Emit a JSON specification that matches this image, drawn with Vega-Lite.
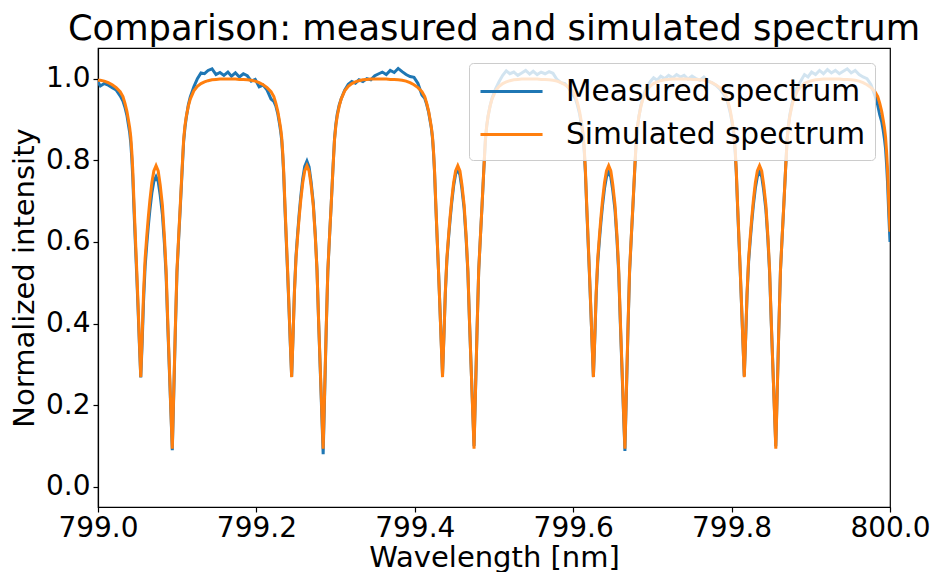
{
"$schema": "https://vega.github.io/schema/vega-lite/v6.json",
"width": 792, "height": 459,
"autosize": {"type": "none"},
"padding": {"left": 98, "top": 48, "right": 44, "bottom": 65},
"background": "white",
"title": {"text": "Comparison: measured and simulated spectrum", "fontSize": 35.3, "font": "DejaVu Sans", "fontWeight": "normal", "color": "black", "anchor": "middle", "offset": 1},
"datasets": {"spec": [
{"x":799.0000,"m":0.992,"s":0.996},
{"x":799.0030,"m":0.982,"s":0.996},
{"x":799.0080,"m":0.988,"s":0.994},
{"x":799.0130,"m":0.984,"s":0.990},
{"x":799.0180,"m":0.978,"s":0.985},
{"x":799.0230,"m":0.972,"s":0.978},
{"x":799.0280,"m":0.958,"s":0.968},
{"x":799.0315,"m":0.945,"s":0.956},
{"x":799.0340,"m":0.930,"s":0.940},
{"x":799.0365,"m":0.910,"s":0.920},
{"x":799.0383,"m":0.888,"s":0.900},
{"x":799.0400,"m":0.868,"s":0.880},
{"x":799.0414,"m":0.842,"s":0.857},
{"x":799.0427,"m":0.804,"s":0.820},
{"x":799.0439,"m":0.758,"s":0.776},
{"x":799.0455,"m":0.676,"s":0.694},
{"x":799.0472,"m":0.596,"s":0.612},
{"x":799.0489,"m":0.518,"s":0.531},
{"x":799.0505,"m":0.440,"s":0.450},
{"x":799.0522,"m":0.352,"s":0.360},
{"x":799.0540,"m":0.268,"s":0.269},
{"x":799.0558,"m":0.355,"s":0.370},
{"x":799.0575,"m":0.455,"s":0.475},
{"x":799.0595,"m":0.540,"s":0.560},
{"x":799.0616,"m":0.594,"s":0.615},
{"x":799.0635,"m":0.638,"s":0.660},
{"x":799.0655,"m":0.678,"s":0.702},
{"x":799.0680,"m":0.720,"s":0.745},
{"x":799.0705,"m":0.748,"s":0.774},
{"x":799.0733,"m":0.760,"s":0.787},
{"x":799.0760,"m":0.748,"s":0.774},
{"x":799.0785,"m":0.715,"s":0.740},
{"x":799.0813,"m":0.668,"s":0.690},
{"x":799.0838,"m":0.598,"s":0.615},
{"x":799.0860,"m":0.518,"s":0.531},
{"x":799.0880,"m":0.400,"s":0.410},
{"x":799.0900,"m":0.292,"s":0.300},
{"x":799.0920,"m":0.185,"s":0.190},
{"x":799.0938,"m":0.090,"s":0.094},
{"x":799.0956,"m":0.222,"s":0.230},
{"x":799.0976,"m":0.378,"s":0.385},
{"x":799.0997,"m":0.524,"s":0.531},
{"x":799.1018,"m":0.606,"s":0.612},
{"x":799.1040,"m":0.688,"s":0.694},
{"x":799.1061,"m":0.770,"s":0.776},
{"x":799.1081,"m":0.845,"s":0.850},
{"x":799.1098,"m":0.880,"s":0.885},
{"x":799.1115,"m":0.905,"s":0.908},
{"x":799.1140,"m":0.935,"s":0.932},
{"x":799.1165,"m":0.955,"s":0.950},
{"x":799.1210,"m":0.980,"s":0.970},
{"x":799.1255,"m":1.000,"s":0.981},
{"x":799.1300,"m":1.014,"s":0.988},
{"x":799.1345,"m":1.012,"s":0.992},
{"x":799.1390,"m":1.020,"s":0.995},
{"x":799.1440,"m":1.024,"s":0.997},
{"x":799.1490,"m":1.010,"s":0.998},
{"x":799.1540,"m":1.015,"s":0.999},
{"x":799.1590,"m":1.008,"s":0.999},
{"x":799.1640,"m":1.016,"s":0.999},
{"x":799.1685,"m":1.006,"s":0.999},
{"x":799.1735,"m":1.014,"s":0.999},
{"x":799.1785,"m":1.004,"s":0.998},
{"x":799.1835,"m":1.012,"s":0.998},
{"x":799.1885,"m":1.007,"s":0.997},
{"x":799.1935,"m":0.994,"s":0.996},
{"x":799.1985,"m":0.998,"s":0.994},
{"x":799.2035,"m":0.980,"s":0.990},
{"x":799.2085,"m":0.984,"s":0.985},
{"x":799.2135,"m":0.972,"s":0.978},
{"x":799.2185,"m":0.950,"s":0.968},
{"x":799.2220,"m":0.944,"s":0.956},
{"x":799.2245,"m":0.933,"s":0.940},
{"x":799.2270,"m":0.914,"s":0.920},
{"x":799.2288,"m":0.894,"s":0.900},
{"x":799.2305,"m":0.873,"s":0.880},
{"x":799.2319,"m":0.850,"s":0.857},
{"x":799.2332,"m":0.813,"s":0.820},
{"x":799.2344,"m":0.768,"s":0.776},
{"x":799.2360,"m":0.686,"s":0.694},
{"x":799.2377,"m":0.604,"s":0.612},
{"x":799.2394,"m":0.524,"s":0.531},
{"x":799.2410,"m":0.444,"s":0.450},
{"x":799.2427,"m":0.356,"s":0.360},
{"x":799.2445,"m":0.270,"s":0.269},
{"x":799.2463,"m":0.372,"s":0.370},
{"x":799.2480,"m":0.478,"s":0.475},
{"x":799.2500,"m":0.565,"s":0.560},
{"x":799.2521,"m":0.622,"s":0.615},
{"x":799.2540,"m":0.668,"s":0.660},
{"x":799.2560,"m":0.711,"s":0.702},
{"x":799.2585,"m":0.755,"s":0.745},
{"x":799.2610,"m":0.785,"s":0.774},
{"x":799.2638,"m":0.798,"s":0.787},
{"x":799.2665,"m":0.784,"s":0.774},
{"x":799.2690,"m":0.748,"s":0.740},
{"x":799.2718,"m":0.696,"s":0.690},
{"x":799.2743,"m":0.619,"s":0.615},
{"x":799.2765,"m":0.533,"s":0.531},
{"x":799.2785,"m":0.408,"s":0.410},
{"x":799.2805,"m":0.294,"s":0.300},
{"x":799.2825,"m":0.180,"s":0.190},
{"x":799.2843,"m":0.080,"s":0.094},
{"x":799.2861,"m":0.220,"s":0.230},
{"x":799.2881,"m":0.380,"s":0.385},
{"x":799.2902,"m":0.528,"s":0.531},
{"x":799.2923,"m":0.612,"s":0.612},
{"x":799.2945,"m":0.694,"s":0.694},
{"x":799.2966,"m":0.778,"s":0.776},
{"x":799.2986,"m":0.852,"s":0.850},
{"x":799.3003,"m":0.888,"s":0.885},
{"x":799.3020,"m":0.912,"s":0.908},
{"x":799.3045,"m":0.935,"s":0.932},
{"x":799.3070,"m":0.950,"s":0.950},
{"x":799.3115,"m":0.972,"s":0.970},
{"x":799.3160,"m":0.986,"s":0.981},
{"x":799.3205,"m":0.993,"s":0.988},
{"x":799.3250,"m":0.989,"s":0.992},
{"x":799.3295,"m":0.997,"s":0.995},
{"x":799.3345,"m":0.993,"s":0.997},
{"x":799.3395,"m":1.000,"s":0.998},
{"x":799.3445,"m":0.997,"s":0.999},
{"x":799.3495,"m":1.007,"s":0.999},
{"x":799.3545,"m":1.012,"s":0.999},
{"x":799.3590,"m":1.016,"s":0.999},
{"x":799.3640,"m":1.010,"s":0.999},
{"x":799.3690,"m":1.020,"s":0.998},
{"x":799.3740,"m":1.015,"s":0.998},
{"x":799.3790,"m":1.025,"s":0.997},
{"x":799.3840,"m":1.017,"s":0.996},
{"x":799.3890,"m":1.010,"s":0.994},
{"x":799.3940,"m":1.005,"s":0.990},
{"x":799.3990,"m":1.003,"s":0.985},
{"x":799.4040,"m":0.988,"s":0.978},
{"x":799.4090,"m":0.960,"s":0.968},
{"x":799.4125,"m":0.952,"s":0.956},
{"x":799.4150,"m":0.937,"s":0.940},
{"x":799.4175,"m":0.917,"s":0.920},
{"x":799.4193,"m":0.897,"s":0.900},
{"x":799.4210,"m":0.877,"s":0.880},
{"x":799.4224,"m":0.853,"s":0.857},
{"x":799.4237,"m":0.816,"s":0.820},
{"x":799.4249,"m":0.772,"s":0.776},
{"x":799.4265,"m":0.690,"s":0.694},
{"x":799.4282,"m":0.609,"s":0.612},
{"x":799.4299,"m":0.530,"s":0.531},
{"x":799.4315,"m":0.451,"s":0.450},
{"x":799.4332,"m":0.363,"s":0.360},
{"x":799.4350,"m":0.275,"s":0.269},
{"x":799.4368,"m":0.372,"s":0.370},
{"x":799.4385,"m":0.472,"s":0.475},
{"x":799.4405,"m":0.555,"s":0.560},
{"x":799.4426,"m":0.609,"s":0.615},
{"x":799.4445,"m":0.653,"s":0.660},
{"x":799.4465,"m":0.694,"s":0.702},
{"x":799.4490,"m":0.737,"s":0.745},
{"x":799.4515,"m":0.766,"s":0.774},
{"x":799.4543,"m":0.778,"s":0.787},
{"x":799.4570,"m":0.764,"s":0.774},
{"x":799.4595,"m":0.730,"s":0.740},
{"x":799.4623,"m":0.681,"s":0.690},
{"x":799.4648,"m":0.608,"s":0.615},
{"x":799.4670,"m":0.526,"s":0.531},
{"x":799.4690,"m":0.408,"s":0.410},
{"x":799.4710,"m":0.300,"s":0.300},
{"x":799.4730,"m":0.195,"s":0.190},
{"x":799.4748,"m":0.100,"s":0.094},
{"x":799.4766,"m":0.232,"s":0.230},
{"x":799.4786,"m":0.384,"s":0.385},
{"x":799.4807,"m":0.530,"s":0.531},
{"x":799.4828,"m":0.611,"s":0.612},
{"x":799.4850,"m":0.693,"s":0.694},
{"x":799.4871,"m":0.775,"s":0.776},
{"x":799.4891,"m":0.849,"s":0.850},
{"x":799.4908,"m":0.884,"s":0.885},
{"x":799.4925,"m":0.908,"s":0.908},
{"x":799.4950,"m":0.933,"s":0.932},
{"x":799.4975,"m":0.952,"s":0.950},
{"x":799.5020,"m":0.975,"s":0.970},
{"x":799.5065,"m":0.993,"s":0.981},
{"x":799.5110,"m":1.008,"s":0.988},
{"x":799.5155,"m":1.019,"s":0.992},
{"x":799.5200,"m":1.012,"s":0.995},
{"x":799.5250,"m":1.016,"s":0.997},
{"x":799.5300,"m":1.008,"s":0.998},
{"x":799.5350,"m":1.014,"s":0.999},
{"x":799.5400,"m":1.020,"s":0.999},
{"x":799.5450,"m":1.011,"s":0.999},
{"x":799.5495,"m":1.018,"s":0.999},
{"x":799.5545,"m":1.010,"s":0.999},
{"x":799.5595,"m":1.016,"s":0.998},
{"x":799.5645,"m":1.012,"s":0.998},
{"x":799.5695,"m":1.017,"s":0.997},
{"x":799.5745,"m":1.013,"s":0.996},
{"x":799.5795,"m":0.998,"s":0.994},
{"x":799.5845,"m":0.990,"s":0.990},
{"x":799.5895,"m":0.988,"s":0.985},
{"x":799.5945,"m":0.976,"s":0.978},
{"x":799.5995,"m":0.962,"s":0.968},
{"x":799.6030,"m":0.950,"s":0.956},
{"x":799.6055,"m":0.934,"s":0.940},
{"x":799.6080,"m":0.914,"s":0.920},
{"x":799.6098,"m":0.894,"s":0.900},
{"x":799.6115,"m":0.874,"s":0.880},
{"x":799.6129,"m":0.851,"s":0.857},
{"x":799.6142,"m":0.814,"s":0.820},
{"x":799.6154,"m":0.770,"s":0.776},
{"x":799.6170,"m":0.688,"s":0.694},
{"x":799.6187,"m":0.606,"s":0.612},
{"x":799.6204,"m":0.526,"s":0.531},
{"x":799.6220,"m":0.446,"s":0.450},
{"x":799.6237,"m":0.358,"s":0.360},
{"x":799.6255,"m":0.270,"s":0.269},
{"x":799.6273,"m":0.366,"s":0.370},
{"x":799.6290,"m":0.468,"s":0.475},
{"x":799.6310,"m":0.551,"s":0.560},
{"x":799.6331,"m":0.604,"s":0.615},
{"x":799.6350,"m":0.648,"s":0.660},
{"x":799.6370,"m":0.689,"s":0.702},
{"x":799.6395,"m":0.731,"s":0.745},
{"x":799.6420,"m":0.759,"s":0.774},
{"x":799.6448,"m":0.772,"s":0.787},
{"x":799.6475,"m":0.759,"s":0.774},
{"x":799.6500,"m":0.726,"s":0.740},
{"x":799.6528,"m":0.678,"s":0.690},
{"x":799.6553,"m":0.605,"s":0.615},
{"x":799.6575,"m":0.522,"s":0.531},
{"x":799.6595,"m":0.402,"s":0.410},
{"x":799.6615,"m":0.292,"s":0.300},
{"x":799.6635,"m":0.182,"s":0.190},
{"x":799.6653,"m":0.088,"s":0.094},
{"x":799.6671,"m":0.224,"s":0.230},
{"x":799.6691,"m":0.380,"s":0.385},
{"x":799.6712,"m":0.527,"s":0.531},
{"x":799.6733,"m":0.609,"s":0.612},
{"x":799.6755,"m":0.691,"s":0.694},
{"x":799.6776,"m":0.773,"s":0.776},
{"x":799.6796,"m":0.847,"s":0.850},
{"x":799.6813,"m":0.883,"s":0.885},
{"x":799.6830,"m":0.907,"s":0.908},
{"x":799.6855,"m":0.934,"s":0.932},
{"x":799.6880,"m":0.955,"s":0.950},
{"x":799.6925,"m":0.978,"s":0.970},
{"x":799.6970,"m":0.992,"s":0.981},
{"x":799.7015,"m":1.002,"s":0.988},
{"x":799.7060,"m":0.996,"s":0.992},
{"x":799.7105,"m":1.006,"s":0.995},
{"x":799.7155,"m":1.000,"s":0.997},
{"x":799.7205,"m":1.008,"s":0.998},
{"x":799.7255,"m":1.002,"s":0.999},
{"x":799.7305,"m":1.010,"s":0.999},
{"x":799.7355,"m":1.004,"s":0.999},
{"x":799.7400,"m":1.008,"s":0.999},
{"x":799.7450,"m":0.999,"s":0.999},
{"x":799.7500,"m":1.006,"s":0.998},
{"x":799.7550,"m":1.000,"s":0.998},
{"x":799.7600,"m":0.996,"s":0.997},
{"x":799.7650,"m":1.004,"s":0.996},
{"x":799.7700,"m":0.994,"s":0.994},
{"x":799.7750,"m":0.990,"s":0.990},
{"x":799.7800,"m":0.984,"s":0.985},
{"x":799.7850,"m":0.975,"s":0.978},
{"x":799.7900,"m":0.962,"s":0.968},
{"x":799.7935,"m":0.951,"s":0.956},
{"x":799.7960,"m":0.935,"s":0.940},
{"x":799.7985,"m":0.915,"s":0.920},
{"x":799.8003,"m":0.895,"s":0.900},
{"x":799.8020,"m":0.875,"s":0.880},
{"x":799.8034,"m":0.852,"s":0.857},
{"x":799.8047,"m":0.815,"s":0.820},
{"x":799.8059,"m":0.771,"s":0.776},
{"x":799.8075,"m":0.689,"s":0.694},
{"x":799.8092,"m":0.607,"s":0.612},
{"x":799.8109,"m":0.527,"s":0.531},
{"x":799.8125,"m":0.447,"s":0.450},
{"x":799.8142,"m":0.359,"s":0.360},
{"x":799.8160,"m":0.272,"s":0.269},
{"x":799.8178,"m":0.367,"s":0.370},
{"x":799.8195,"m":0.469,"s":0.475},
{"x":799.8215,"m":0.552,"s":0.560},
{"x":799.8236,"m":0.605,"s":0.615},
{"x":799.8255,"m":0.649,"s":0.660},
{"x":799.8275,"m":0.690,"s":0.702},
{"x":799.8300,"m":0.732,"s":0.745},
{"x":799.8325,"m":0.760,"s":0.774},
{"x":799.8353,"m":0.772,"s":0.787},
{"x":799.8380,"m":0.760,"s":0.774},
{"x":799.8405,"m":0.727,"s":0.740},
{"x":799.8433,"m":0.679,"s":0.690},
{"x":799.8458,"m":0.606,"s":0.615},
{"x":799.8480,"m":0.524,"s":0.531},
{"x":799.8500,"m":0.406,"s":0.410},
{"x":799.8520,"m":0.300,"s":0.300},
{"x":799.8540,"m":0.194,"s":0.190},
{"x":799.8558,"m":0.100,"s":0.094},
{"x":799.8576,"m":0.232,"s":0.230},
{"x":799.8596,"m":0.385,"s":0.385},
{"x":799.8617,"m":0.530,"s":0.531},
{"x":799.8638,"m":0.611,"s":0.612},
{"x":799.8660,"m":0.693,"s":0.694},
{"x":799.8681,"m":0.776,"s":0.776},
{"x":799.8701,"m":0.851,"s":0.850},
{"x":799.8718,"m":0.887,"s":0.885},
{"x":799.8735,"m":0.911,"s":0.908},
{"x":799.8760,"m":0.936,"s":0.932},
{"x":799.8785,"m":0.958,"s":0.950},
{"x":799.8830,"m":0.980,"s":0.970},
{"x":799.8875,"m":0.995,"s":0.981},
{"x":799.8920,"m":1.010,"s":0.988},
{"x":799.8965,"m":1.004,"s":0.992},
{"x":799.9010,"m":1.016,"s":0.995},
{"x":799.9060,"m":1.010,"s":0.997},
{"x":799.9110,"m":1.020,"s":0.998},
{"x":799.9160,"m":1.012,"s":0.999},
{"x":799.9210,"m":1.022,"s":0.999},
{"x":799.9260,"m":1.014,"s":0.999},
{"x":799.9310,"m":1.020,"s":0.999},
{"x":799.9360,"m":1.012,"s":0.999},
{"x":799.9410,"m":1.018,"s":0.998},
{"x":799.9460,"m":1.024,"s":0.998},
{"x":799.9510,"m":1.014,"s":0.997},
{"x":799.9560,"m":1.020,"s":0.996},
{"x":799.9610,"m":1.010,"s":0.994},
{"x":799.9660,"m":1.004,"s":0.990},
{"x":799.9710,"m":1.000,"s":0.985},
{"x":799.9760,"m":0.985,"s":0.978},
{"x":799.9810,"m":0.958,"s":0.968},
{"x":799.9845,"m":0.935,"s":0.956},
{"x":799.9870,"m":0.912,"s":0.940},
{"x":799.9895,"m":0.895,"s":0.920},
{"x":799.9913,"m":0.875,"s":0.900},
{"x":799.9930,"m":0.852,"s":0.880},
{"x":799.9944,"m":0.828,"s":0.857},
{"x":799.9957,"m":0.790,"s":0.820},
{"x":799.9969,"m":0.745,"s":0.776},
{"x":799.9985,"m":0.665,"s":0.694},
{"x":800.0000,"m":0.600,"s":0.625}
]},
"data": {"name": "spec"},
"transform": [{"fold": ["m", "s"], "as": ["series", "y"]}],
"mark": {"type": "line", "strokeWidth": 3, "clip": true},
"encoding": {
  "x": {"field": "x", "type": "quantitative", "scale": {"domain": [799, 800], "nice": false, "zero": false},
        "axis": {"values": [799.0, 799.2, 799.4, 799.6, 799.8, 800.0], "format": ".1f", "title": "Wavelength [nm]", "labelPadding": 2, "titlePadding": 1, "labelFlush": false}},
  "y": {"field": "y", "type": "quantitative", "scale": {"domain": [-0.049, 1.075], "nice": false, "zero": false},
        "axis": {"values": [0, 0.2, 0.4, 0.6, 0.8, 1.0], "format": ".1f", "title": "Normalized intensity", "labelPadding": 3, "titlePadding": 6}},
  "color": {"field": "series", "type": "nominal", "scale": {"domain": ["m", "s"], "range": ["#1f77b4", "#ff7f0e"]},
        "legend": {"title": null, "orient": "top-right", "offset": 15, "labelExpr": "datum.label == 'm' ? 'Measured spectrum' : 'Simulated spectrum'",
                   "symbolType": "M-1,0H2.65", "symbolStrokeWidth": 3, "symbolSize": 1156, "labelFontSize": 29.6, "labelFont": "DejaVu Sans", "labelColor": "black",
                   "fillColor": "rgba(255,255,255,0.8)", "strokeColor": "#cccccc", "cornerRadius": 4, "padding": 10, "rowPadding": 9, "labelOffset": 50, "labelLimit": 400, "zindex": 1}}
},
"config": {
  "font": "DejaVu Sans",
  "view": {"stroke": "black", "strokeWidth": 1.2},
  "axis": {"domainColor": "black", "tickColor": "black", "labelColor": "black", "titleColor": "black", "labelFontSize": 28, "titleFontSize": 29, "titleFontWeight": "normal", "tickSize": 5, "grid": false, "labelFont": "DejaVu Sans", "titleFont": "DejaVu Sans", "domainWidth": 1.2, "tickWidth": 1.2}
}
}
